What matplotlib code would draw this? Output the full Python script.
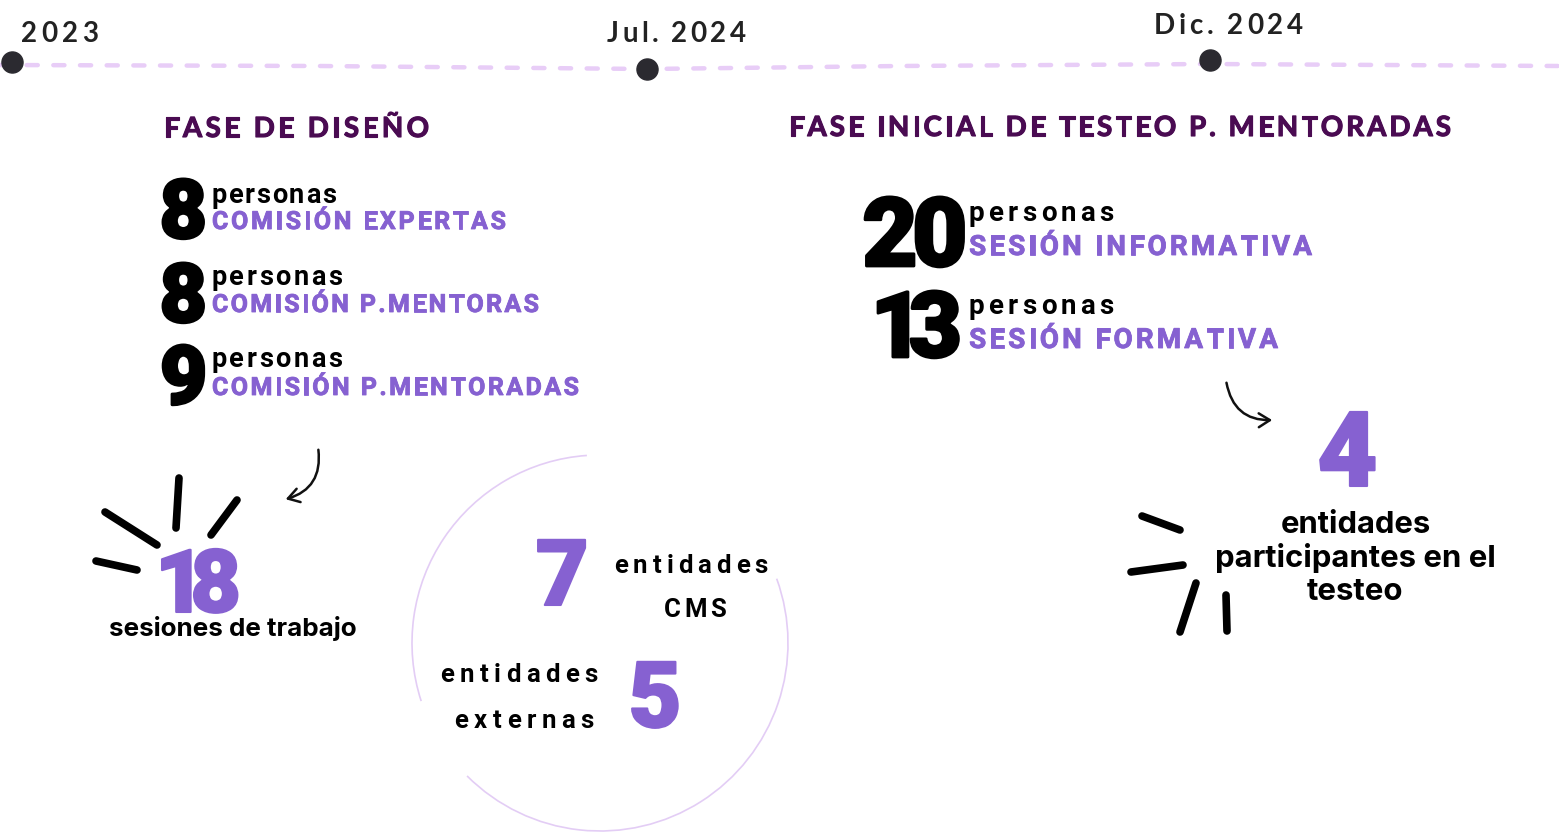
import matplotlib
matplotlib.use("Agg")
import matplotlib.pyplot as plt
from matplotlib import patheffects
from matplotlib.font_manager import FontProperties, findfont, get_font
from matplotlib.patches import FancyArrowPatch, Arc

DPI = 100
W, H = 1559, 833

morado = "#8661d1"
morado_osc = "#4a0b52"
lila = "#e8cdf7"
negro = "#000000"

fechas = ["2023", "Jul. 2024", "Dic. 2024"]
fases = ["FASE DE DISEÑO", "FASE INICIAL DE TESTEO P. MENTORADAS"]

diseno_num = ["8", "8", "9"]
diseno_txt = ["COMISIÓN EXPERTAS", "COMISIÓN P.MENTORAS", "COMISIÓN P.MENTORADAS"]

testeo_num = ["20", "13"]
testeo_txt = ["SESIÓN INFORMATIVA", "SESIÓN FORMATIVA"]

sesiones = "18"
ent_cms = "7"
ent_ext = "5"
ent_test = "4"
texto_test = ["entidades", "participantes en el", "testeo"]

fig = plt.figure(figsize=(W / DPI, H / DPI), dpi=DPI)
ax = fig.add_axes([0, 0, 1, 1])
ax.set_xlim(0, W)
ax.set_ylim(H, 0)
ax.axis("off")

k = DPI / 72


def metricas(s, fp):
    font = get_font(findfont(fp))
    font.set_size(fp.get_size_in_points(), 72)
    res = []
    for ch in s:
        g = font.load_char(ord(ch))
        res.append((g.linearHoriAdvance / 65536 * k, g.horiBearingX / 64 * k, g.width / 64 * k))
    return res


# texto con espaciado entre letras ajustado a un ancho (de tinta a tinta)
def texto(x0, x1, y, s, size, color, family="Roboto", weight="bold", grueso=0):
    fp = FontProperties(family=family, weight=weight, size=size)
    m = metricas(s, fp)
    n = len(s)
    natural = sum(a for a, _, _ in m[:-1]) - m[0][1] + m[-1][1] + m[-1][2]
    track = (x1 - x0 - natural) / max(n - 1, 1)
    efectos = [patheffects.withStroke(linewidth=grueso, foreground=color)] if grueso else None
    origen = x0 - m[0][1]
    for ch, (a, lsb, w) in zip(s, m):
        if ch != " ":
            ax.text(origen, y, ch, fontproperties=fp, color=color, ha="left",
                    va="baseline", path_effects=efectos)
        origen += a + track


# cifras grandes: cada digito empieza (tinta) en su x
def cifras(xs, y, s, size, color, grueso=1.5):
    for x, ch in zip(xs, s):
        texto(x, x, y, ch, size, color, weight="heavy", grueso=grueso)


# linea de texto normal, tamaño ajustado al ancho
def linea(xc, ancho, y, s, color, family="Inter", weight="bold"):
    fp = FontProperties(family=family, weight=weight, size=10)
    m = metricas(s, fp)
    natural = sum(a for a, _, _ in m[:-1]) - m[0][1] + m[-1][1] + m[-1][2]
    fp.set_size(10 * ancho / natural)
    ax.text(xc, y, s, fontproperties=fp, color=color, ha="center", va="baseline")


# linea de tiempo
ax.plot([0, 320, 647, 900, 1210, 1559], [65, 66, 69, 66, 64, 66], color=lila,
        lw=3.2, dashes=(2.5, 3.5), solid_capstyle="round", dash_capstyle="round", zorder=1)
ax.scatter([12, 647, 1210], [62, 69, 60], s=230, color="#2b2a30", zorder=2)

texto(22, 97, 42, fechas[0], 20, "#222222", family="Lato", weight="bold")
texto(607, 745, 42, fechas[1], 20, "#222222", family="Lato", weight="bold")
texto(1156, 1302, 34, fechas[2], 20, "#222222", family="Lato", weight="bold")

# titulos de fase
texto(166, 428, 137, fases[0], 20, morado_osc, family="Lato", weight="bold", grueso=0.8)
texto(791, 1450, 136, fases[1], 20, morado_osc, family="Lato", weight="bold", grueso=0.8)

# fase de diseño
num_base = [238, 322, 404]
per_base = [203, 285, 367]
txt_base = [229, 312, 395]
txt_fin = [505, 538, 578]
for i in range(3):
    cifras([163], num_base[i], diseno_num[i], 59, negro, grueso=2)
    texto(213, 335 if i == 0 else 341, per_base[i], "personas", 19.5, negro)
    texto(213, txt_fin[i], txt_base[i], diseno_txt[i], 18, morado, grueso=0.6)

# fase de testeo
cifras([865, 916], 266, testeo_num[0], 69, negro, grueso=2)
cifras([878, 911], 357, testeo_num[1], 66, negro, grueso=2)
texto(970, 1113, 221, "personas", 20, negro)
texto(970, 1312, 255, testeo_txt[0], 20, morado, grueso=0.6)
texto(970, 1113, 314, "personas", 20, negro)
texto(970, 1278, 348, testeo_txt[1], 20, morado, grueso=0.6)

# flechas
ax.add_patch(FancyArrowPatch((318, 447), (283, 500), connectionstyle="arc3,rad=-0.45",
                             arrowstyle="->,head_length=8,head_width=5", lw=1.8, color="#111111"))
ax.add_patch(FancyArrowPatch((1226, 380), (1275, 420), connectionstyle="arc3,rad=0.45",
                             arrowstyle="->,head_length=8,head_width=5", lw=1.8, color="#111111"))

# sesiones de trabajo
cifras([162, 194], 612, sesiones, 63, morado)
linea(233, 246, 636, "sesiones de trabajo", negro)
for (xa, ya), (xb, yb) in [((105, 512), (157, 545)), ((179, 478), (176, 528)),
                           ((237, 500), (211, 535)), ((96, 561), (137, 570))]:
    ax.plot([xa, xb], [ya, yb], color=negro, lw=5.5, solid_capstyle="round")

# circulo de entidades
cx, cy, r = 600, 643, 188
ax.add_patch(Arc((cx, cy), 2 * r, 2 * r, theta1=-198, theta2=-94, color="#e3cdf5", lw=1.2))
ax.add_patch(Arc((cx, cy), 2 * r, 2 * r, theta1=-20, theta2=135, color="#e3cdf5", lw=1.2))
cifras([538], 605, ent_cms, 66, morado)
texto(615, 767, 573, "entidades", 18.5, negro)
texto(665, 725, 617, "CMS", 18.5, negro)
texto(441, 597, 682, "entidades", 18.5, negro)
texto(455, 593, 728, "externas", 18.5, negro)
cifras([632], 727, ent_ext, 66, morado)

# entidades en el testeo
cifras([1320], 486, ent_test, 75, morado)
linea(1356, 148, 533, texto_test[0], negro)
linea(1355, 277, 567, texto_test[1], negro)
linea(1355, 95, 600, texto_test[2], negro)
for (xa, ya), (xb, yb) in [((1142, 516), (1180, 530)), ((1131, 572), (1183, 565)),
                           ((1196, 583), (1180, 632)), ((1226, 595), (1227, 631))]:
    ax.plot([xa, xb], [ya, yb], color=negro, lw=5.5, solid_capstyle="round")

fig.savefig("out.png", dpi=DPI)
